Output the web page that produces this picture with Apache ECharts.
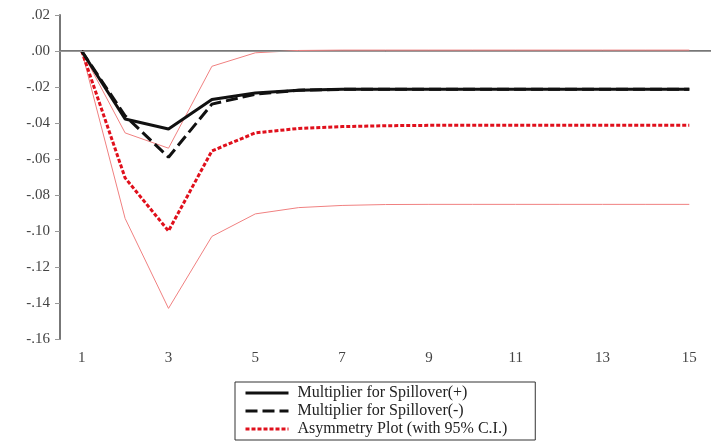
<!DOCTYPE html>
<html>
<head>
<meta charset="utf-8">
<script src="https://cdn.jsdelivr.net/npm/echarts@6/dist/echarts.min.js"></script>
<style>
  html, body { margin: 0; padding: 0; background: #fff; }
  #main { width: 711px; height: 444px; }
</style>
</head>
<body>
<div id="main"></div>
<script>
var periods = ['1','2','3','4','5','6','7','8','9','10','11','12','13','14','15'];
var multPos = [0, -0.0378, -0.0433, -0.027, -0.0233, -0.0218, -0.0213, -0.0212, -0.0212, -0.0212, -0.0212, -0.0212, -0.0212, -0.0212, -0.0212];
var multNeg = [0, -0.036, -0.059, -0.0295, -0.024, -0.0218, -0.0213, -0.0212, -0.0212, -0.0212, -0.0212, -0.0212, -0.0212, -0.0212, -0.0212];
var asym = [0, -0.0705, -0.100, -0.0555, -0.0455, -0.043, -0.042, -0.0415, -0.0413, -0.0413, -0.0413, -0.0413, -0.0413, -0.0413, -0.0413];
var ciUpper = [0, -0.0455, -0.054, -0.0085, -0.001, 0.0003, 0.0005, 0.0005, 0.0005, 0.0005, 0.0005, 0.0005, 0.0005, 0.0005, 0.0005];
var ciLower = [0, -0.093, -0.143, -0.103, -0.0905, -0.087, -0.0858, -0.0853, -0.0852, -0.0852, -0.0852, -0.0852, -0.0852, -0.0852, -0.0852];

var myChart = echarts.init(document.getElementById('main'));
var serif = '"Liberation Serif", "DejaVu Serif", serif';

var option = {
  animation: false,
  grid: { left: 60, right: 0, top: 15, bottom: 105 },
  legend: {
    data: ['Multiplier for Spillover(+)', 'Multiplier for Spillover(-)', 'Asymmetry Plot (with 95% C.I.)'],
    orient: 'vertical',
    left: 235,
    top: 382,
    height: 80,
    itemWidth: 43,
    itemHeight: 10,
    itemGap: 2,
    padding: [3, 28, 3, 9],
    borderColor: '#333',
    borderWidth: 1,
    itemStyle: { opacity: 0 },
    lineStyle: { width: 3 },
    textStyle: { fontFamily: serif, fontSize: 16, color: '#222', padding: [0, 0, 0, 4] }
  },
  xAxis: {
    type: 'category',
    data: periods,
    boundaryGap: true,
    axisLine: { lineStyle: { color: '#777', width: 2 } },
    axisTick: { inside: true, length: 4, lineStyle: { color: '#999' } },
    axisLabel: {
      interval: 1,
      fontFamily: serif, fontSize: 15, color: '#444', margin: 12
    }
  },
  yAxis: {
    type: 'value',
    min: -0.16,
    max: 0.02,
    interval: 0.02,
    axisLine: { show: true, lineStyle: { color: '#777', width: 2 } },
    axisTick: { show: true, length: 5, lineStyle: { color: '#999' } },
    splitLine: { show: false },
    axisLabel: {
      fontFamily: serif, fontSize: 15, color: '#444', margin: 10,
      formatter: function (v) {
        var s = Math.abs(v).toFixed(2).replace(/^0/, '');
        return (v < -1e-9 ? '-' : '') + s;
      }
    }
  },
  series: [
    {
      name: 'CI upper',
      type: 'line',
      data: ciUpper,
      symbol: 'none',
      lineStyle: { color: '#f08080', width: 1 },
      markLine: {
        silent: true,
        symbol: 'none',
        label: { show: false },
        lineStyle: { color: '#999', width: 1, type: 'solid' },
        data: [{ yAxis: 0 }]
      },
      z: 1
    },
    {
      name: 'CI lower',
      type: 'line',
      data: ciLower,
      symbol: 'none',
      lineStyle: { color: '#f08080', width: 1 },
      z: 1
    },
    {
      name: 'Asymmetry Plot (with 95% C.I.)',
      type: 'line',
      data: asym,
      symbol: 'none',
      lineStyle: { color: '#e0101c', width: 3, type: [4, 2] },
      itemStyle: { color: '#e0101c' },
      z: 2
    },
    {
      name: 'Multiplier for Spillover(-)',
      type: 'line',
      data: multNeg,
      symbol: 'none',
      lineStyle: { color: '#111', width: 3, type: [12, 5] },
      itemStyle: { color: '#111' },
      z: 3
    },
    {
      name: 'Multiplier for Spillover(+)',
      type: 'line',
      data: multPos,
      symbol: 'none',
      lineStyle: { color: '#111', width: 3 },
      itemStyle: { color: '#111' },
      z: 4
    }
  ]
};

myChart.setOption(option);
</script>
</body>
</html>
